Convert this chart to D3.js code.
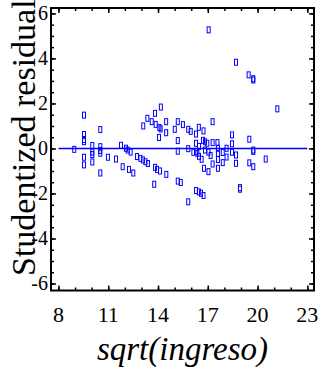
<!DOCTYPE html>
<html>
<head>
<script src="https://cdn.jsdelivr.net/npm/d3@7"></script>
</head>
<body style="margin:0">
<script>
// values
const sqrtIngreso = [
	8.95,
	9.54, 9.54, 9.54, 9.54, 9.54, 9.54,
	10.04, 10.04, 10.04, 10.04,
	10.52, 10.52, 10.52, 10.52, 10.52,
	10.98, 11.47, 11.77, 11.87,
	12.07, 12.17, 12.35, 12.25, 12.51,
	12.73, 12.94, 13.09, 13.24, 13.39,
	13.11, 13.36, 13.62, 13.82, 13.86, 14.17, 14.08, 14.16, 14.06, 14.49, 14.49,
	13.77, 13.82, 13.94, 14.12, 14.50,
	15.01, 15.19, 15.19, 15.19, 15.19, 15.37, 15.50,
	15.82, 15.97, 15.82, 15.82, 16.13,
	16.29, 16.46, 16.74, 17.29,
	16.29, 16.29, 16.37, 16.47, 16.47, 16.63, 16.71, 16.83, 16.83, 16.97, 17.04, 17.17, 17.29, 17.29, 16.77, 17.04,
	17.58, 17.61, 17.61, 17.61, 17.61, 17.90, 17.90, 18.13, 18.13,
	18.46, 18.46, 18.46, 18.70, 18.70,
	19.50, 19.74, 19.74, 19.50, 19.74, 20.49,
	16.29, 16.46, 16.59, 16.74, 18.94, 18.94,
	17.05, 18.70, 19.46, 19.74, 19.74, 21.19
];
const studResidual = [
	-0.04,
	1.48, 0.62, 0.40, 0.30, -0.39, -0.73,
	0.13, -0.16, -0.27, -0.60,
	0.84, 0.08, -0.09, -0.21, -1.09,
	-0.39, -0.47, 0.14, -0.81,
	0.01, -0.07, -0.16, -0.93, -1.09,
	-0.36, -0.44, -0.51, -0.59, -0.67,
	1.00, 1.34, 1.19, 1.56, 1.07, 1.84, 0.93, 0.87, 0.49, 1.19, 0.70,
	-1.59, -0.84, -0.93, -1.00, -1.15,
	0.85, 1.19, 0.35, -0.12, -1.45, -1.51, 1.06,
	0.85, 0.76, -0.01, -2.37, -0.17,
	0.64, 0.94, 0.78, 1.19,
	0.23, -0.14, -0.22, 0.09, -0.35, -0.48, 0.36, 0.30, -0.07, 0.23, -0.16, -0.31, 0.26, -0.69, -0.88, -1.03,
	0.26, 0.01, -0.22, -0.49, -0.88, -0.18, -0.63, 0.01, -0.38,
	0.60, 0.21, -0.17, -0.29, -0.66,
	0.41, -0.07, -0.13, -0.64, -0.81, -0.47,
	-1.87, -1.93, -1.99, -2.09, -1.81, -1.74,
	5.27, 3.83, 3.27, 3.04, 3.10, 1.76
];
const xTicks = [8, 11, 14, 17, 20, 23];
const xMinorTicks = d3.range(8, 23.01, 1);
const yTicks = [-6, -4, -2, 0, 2, 4, 6];
const yMinorTicks = d3.range(-6, 6.01, 0.5);
const xDomain = [7.55, 23.4];
const yDomain = [-6.31, 6.24];
const zeroLine = [8, 23];

const serif = "'Liberation Serif'";
const margin = { top: 8, right: 8, bottom: 85.5, left: 51 };
const fullWidth = 322, fullHeight = 376;
const width = fullWidth - margin.left - margin.right;
const height = fullHeight - margin.top - margin.bottom;

const svg = d3.select("body")
	.append("svg")
	.attr("width", fullWidth)
	.attr("height", fullHeight)
	.style("display", "block");
const g = svg.append("g")
	.attr("transform", "translate(" + margin.left + "," + margin.top + ")");

const x = d3.scaleLinear().domain(xDomain).range([0, width]);
const y = d3.scaleLinear().domain(yDomain).range([height, 0]);

// tick marks only, all pointing inward
function addTicks(axis, transform) {
	const a = g.append("g")
		.attr("transform", transform)
		.call(axis.tickFormat(""));
	a.select(".domain").remove();
	a.selectAll("text").remove();
	a.selectAll("line").attr("stroke", "#000").attr("stroke-width", 1.5);
}
const fmt = d => d < 0 ? "-" + (-d) : String(d);

addTicks(d3.axisBottom(x).tickValues(xMinorTicks).tickSize(-3), "translate(0," + height + ")");
addTicks(d3.axisTop(x).tickValues(xMinorTicks).tickSize(-3), "translate(0,0)");
addTicks(d3.axisLeft(y).tickValues(yMinorTicks).tickSize(-3), "translate(0,0)");
addTicks(d3.axisRight(y).tickValues(yMinorTicks).tickSize(-3), "translate(" + width + ",0)");
addTicks(d3.axisBottom(x).tickValues(xTicks).tickSize(-5), "translate(0," + height + ")");
addTicks(d3.axisTop(x).tickValues(xTicks).tickSize(-5), "translate(0,0)");
addTicks(d3.axisLeft(y).tickValues(yTicks).tickSize(-5), "translate(0,0)");
addTicks(d3.axisRight(y).tickValues(yTicks).tickSize(-5), "translate(" + width + ",0)");

// tick labels
g.selectAll("text.xlab")
	.data(xTicks)
	.enter()
	.append("text")
	.classed("xlab", true)
	.attr("x", d => x(d))
	.attr("y", height + 31)
	.attr("text-anchor", "middle")
	.attr("font-size", 22)
	.style("font-family", serif)
	.text(fmt);
g.selectAll("text.ylab")
	.data(yTicks)
	.enter()
	.append("text")
	.classed("ylab", true)
	.attr("x", -3)
	.attr("y", d => y(d))
	.attr("dy", "0.34em")
	.attr("text-anchor", "end")
	.attr("font-size", 20)
	.style("font-family", serif)
	.text(fmt);

// frame
g.append("rect")
	.attr("width", width)
	.attr("height", height)
	.attr("fill", "none")
	.attr("stroke", "#000")
	.attr("stroke-width", 2);

// zero reference line
g.append("line")
	.attr("x1", x(zeroLine[0]))
	.attr("x2", x(zeroLine[1]))
	.attr("y1", y(0))
	.attr("y2", y(0))
	.attr("stroke", "#0000ff")
	.attr("stroke-width", 1.5);

// points
g.selectAll("rect.pt")
	.data(d3.range(sqrtIngreso.length))
	.enter()
	.append("rect")
	.classed("pt", true)
	.attr("x", i => x(sqrtIngreso[i]) - 1.5)
	.attr("y", i => y(studResidual[i]) - 3)
	.attr("width", 3)
	.attr("height", 6)
	.attr("fill", "none")
	.attr("stroke", "#0000ff")
	.attr("stroke-width", 1);

// axis titles
svg.append("text")
	.attr("x", 182.5)
	.attr("y", 360)
	.attr("text-anchor", "middle")
	.attr("font-size", 33)
	.attr("font-style", "italic")
	.style("font-family", serif)
	.text("sqrt(ingreso)");

svg.append("text")
	.attr("transform", "translate(34.5,276) rotate(-90)")
	.attr("text-anchor", "start")
	.attr("font-size", 34)
	.style("font-family", serif)
	.text("Studentized residual");
</script>
</body>
</html>
